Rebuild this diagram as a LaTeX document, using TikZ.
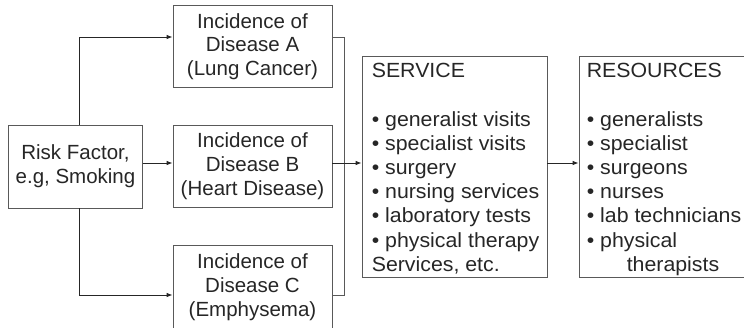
\documentclass[tikz,border=0pt]{standalone}
\usepackage{fontspec}
\setmainfont{Liberation Sans}
\newfontfamily\widefont[FakeStretch=1.04]{Liberation Sans}
\usetikzlibrary{arrows.meta,calc}
\begin{document}
\begin{tikzpicture}[x=1pt,y=-1pt,
  box/.style={draw=black!65, line width=0.8pt, inner sep=0pt, text=black!85,
    font=\fontsize{20.5}{23.8}\selectfont, align=center},
  lbox/.style={draw=black!65, line width=0.8pt, inner sep=0pt},
  txt/.style={inner sep=0pt, text=black!85, font=\widefont\fontsize{20.5}{24.2}\selectfont, align=left, anchor=north west},
  arr/.style={draw=black!85, line width=0.8pt, -{Latex[length=6pt,width=4.5pt]}},
  ln/.style={draw=black!65, line width=0.8pt}]
\useasboundingbox (0,0) rectangle (744,327);
\node[box, minimum width=134pt, minimum height=83pt] (risk) at (75.5,166.5) {Risk Factor,\\e.g, Smoking};
\node[box, minimum width=159pt, minimum height=82pt] (dA) at (252.5,46.5) {Incidence of\\Disease A\\(Lung Cancer)};
\node[box, minimum width=159pt, minimum height=82pt] (dB) at (252.5,166) {Incidence of\\Disease B\\(Heart Disease)};
\node[box, minimum width=159pt, minimum height=84pt] (dC) at (252.5,287) {Incidence of\\Disease C\\(Emphysema)};
\node[lbox, minimum width=185pt, minimum height=221pt] (svc) at (454.5,166.5) {};
\node[lbox, minimum width=168pt, minimum height=221pt] (res) at (663,166.5) {};
\node[txt] (svct) at ([xshift=10pt,yshift=-7.5pt]svc.north west) {SERVICE\\[24.2pt]%
\textbullet\ generalist visits\\\textbullet\ specialist visits\\\textbullet\ surgery\\%
\textbullet\ nursing services\\\textbullet\ laboratory tests\\\textbullet\ physical therapy\\Services, etc.};
\node[txt] (rest) at ([xshift=8pt,yshift=-7.5pt]res.north west) {RESOURCES\\[24.2pt]%
\textbullet\ generalists\\\textbullet\ specialist\\\textbullet\ surgeons\\%
\textbullet\ nurses\\\textbullet\ lab technicians\\\textbullet\ physical\\\hspace*{1.95em}therapists};
% connectors
\draw[arr] ([xshift=3.5pt]risk.north) |- ([yshift=9.5pt]dA.west);
\draw[arr] ([xshift=3.5pt]risk.south) |- ([yshift=-8pt]dC.west);
\draw[arr] ([yshift=3.5pt]risk.east) coordinate (r1) -- (r1 -| dB.west);
\draw[ln] ([yshift=9.5pt]dA.east) -- ++(12,0) coordinate (k1) |- ([yshift=-8pt]dC.east);
\draw[arr] ([yshift=3pt]dB.east) coordinate (b1) -- (b1 -| svc.west);
\draw[arr] ([yshift=3.5pt]svc.east) coordinate (s1) -- (s1 -| res.west);
\end{tikzpicture}
\end{document}
